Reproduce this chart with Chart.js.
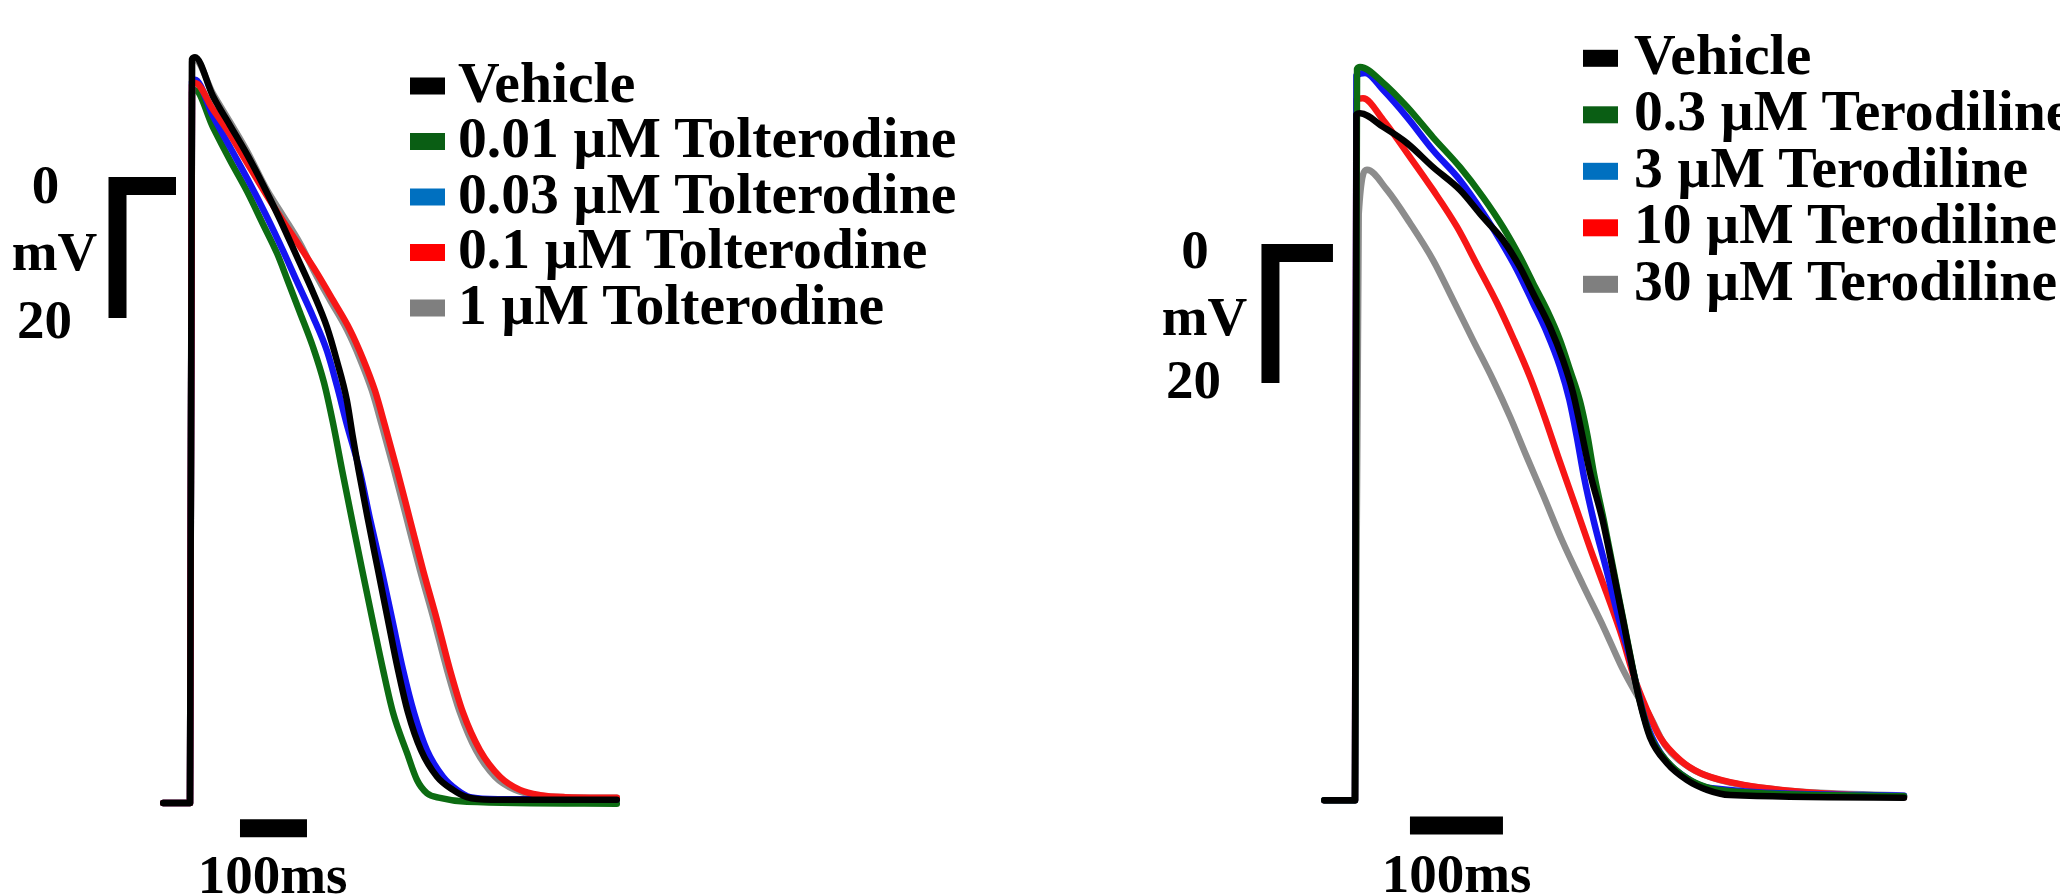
<!DOCTYPE html>
<html>
<head>
<meta charset="utf-8">
<script src="https://cdn.jsdelivr.net/npm/chart.js@4.4.1/dist/chart.umd.min.js"></script>
<style>
html,body{margin:0;padding:0;background:#fff;}
#page{position:relative;width:2060px;height:894px;overflow:hidden;background:#fff;}
.panel{position:absolute;top:0;width:1030px;height:894px;}
.panel canvas{display:block;}
#labels{position:absolute;left:0;top:0;}
</style>
</head>
<body>
<div id="page">
  <div class="panel" style="left:0px"><canvas id="tolChart" width="1030" height="894"></canvas></div>
  <div class="panel" style="left:1030px"><canvas id="terChart" width="1030" height="894"></canvas></div>
  <svg id="labels" width="2060" height="894" xmlns="http://www.w3.org/2000/svg"></svg>
</div>
<script>
// ---------------- DATA (time in ms from upstroke, membrane potential in mV) ----------------
const tolLabels = ['Vehicle', '0.01 \u00b5M Tolterodine', '0.03 \u00b5M Tolterodine', '0.1 \u00b5M Tolterodine', '1 \u00b5M Tolterodine'];
const terLabels = ['Vehicle', '0.3 \u00b5M Terodiline', '3 \u00b5M Terodiline', '10 \u00b5M Terodiline', '30 \u00b5M Terodiline'];

const tolVehicle = [[-40,-93.5],[0,-93.5],[3,19.2],[7.5,19.5],[34.3,13.6],[59.7,9.2],[85.1,4.8],[109,0.2],[134,-5.0],[160,-10.8],[184,-16.2],[204.5,-21.4],[219,-26.4],[234,-32.4],[243,-38.0],[251.5,-43.0],[265.7,-50.6],[280.6,-58.2],[295.5,-65.8],[310.4,-73.3],[325.4,-79.8],[344.8,-85.5],[368.7,-89.5],[392.5,-91.5],[413.4,-92.6],[450,-93.0],[637,-93.0]];
const tol001 = [[-40,-93.5],[0,-93.5],[3,14.2],[7.5,14.5],[34.3,8.9],[59.7,3.9],[85.1,-0.8],[109,-5.8],[129.9,-10.2],[146,-14.4],[164.2,-19.2],[183.6,-24.4],[200,-29.8],[213.4,-35.9],[226.9,-43.0],[241.8,-50.6],[257,-58.2],[272.5,-65.8],[288.1,-73.3],[303,-79.8],[323.9,-85.9],[338.8,-90.0],[353.7,-92.0],[373.1,-92.7],[413.4,-93.3],[637,-93.6]];
const tol003 = [[-40,-93.5],[0,-93.5],[3,15.8],[7.5,16.1],[34.3,10.6],[59.7,5.9],[85.1,1.2],[114.9,-4.7],[138.8,-9.8],[159.7,-14.5],[183.6,-19.8],[204.5,-25.0],[219.4,-30.3],[234.3,-36.2],[253,-43.0],[269,-50.6],[286,-58.2],[302,-65.8],[317.9,-73.3],[334.3,-79.8],[353.7,-85.5],[377.6,-89.5],[398.5,-91.5],[417.9,-92.6],[460,-92.9],[637,-92.9]];
const tol01 = [[-40,-93.5],[0,-93.5],[3,15.3],[7.5,15.6],[34.3,11.6],[59.7,7.8],[85.1,3.5],[114.9,-1.5],[138.8,-5.3],[164.2,-9.2],[189.6,-13.2],[213.4,-17.3],[238.8,-21.8],[258.2,-26.2],[276,-31.0],[291,-36.3],[309,-43.0],[328.4,-50.6],[347.8,-58.2],[368.7,-65.8],[388,-73.3],[407.5,-79.8],[432.8,-85.5],[462.7,-89.5],[492.5,-91.5],[522.4,-92.3],[560,-92.6],[637,-92.7]];
const tol1 = [[-40,-93.5],[0,-93.5],[3,18.8],[7.5,19.1],[34.3,14.0],[59.7,9.7],[85.1,5.3],[114.9,-0.6],[138.8,-4.5],[164.2,-8.7],[185.1,-12.9],[209,-17.3],[234.3,-21.8],[253.7,-26.2],[271.5,-31.0],[286.5,-36.3],[304.5,-43.0],[323.9,-50.6],[343.3,-58.2],[364.2,-65.8],[383.6,-73.3],[403,-79.8],[426.9,-85.5],[455.2,-89.5],[485,-91.5],[515,-92.3],[560,-92.6],[637,-92.7]];

const terVehicle = [[-33,-84.2],[0,-84.2],[1.5,21.3],[5.4,21.5],[30.1,19.4],[55.9,16.9],[83.9,13.2],[112.9,9.7],[137.6,5.5],[159.1,2.0],[177.4,-2.2],[191.4,-6.2],[209.7,-11.4],[223.7,-16.5],[234.4,-21.5],[242.5,-26.8],[252.7,-33.8],[266.2,-41.1],[277.4,-48.8],[288.2,-56.5],[298.9,-64.2],[306.5,-69.2],[317.2,-74.5],[335.5,-78.5],[357,-81.1],[378.5,-82.6],[403.2,-83.4],[590.3,-83.8]];
const ter03 = [[-33,-84.2],[0,-84.2],[2.2,28.3],[5.4,28.6],[30.1,26.2],[55.9,22.5],[83.9,17.8],[112.9,13.2],[137.6,8.6],[159.1,4.0],[177.4,-0.6],[191.4,-4.6],[206.5,-8.8],[220.4,-13.4],[231.2,-18.0],[241.9,-22.8],[249.8,-28.0],[257,-34.0],[267.5,-41.1],[278,-48.8],[288.6,-56.5],[299.2,-64.2],[306.8,-69.2],[317.5,-74.3],[335.5,-78.2],[357,-80.8],[378.5,-82.2],[403.2,-82.8],[590.3,-83.6]];
const ter3 = [[-33,-84.2],[0,-84.2],[1.5,27.3],[10.8,27.7],[30.1,25.1],[55.9,20.9],[83.9,15.8],[112.9,11.2],[137.6,6.2],[155.9,2.0],[174.2,-2.6],[191.4,-7.7],[206.5,-12.3],[220.4,-17.5],[230.5,-22.6],[238.5,-28.3],[246,-34.3],[256.5,-41.1],[270.5,-48.8],[284,-56.5],[295.2,-62.0],[303.5,-67.0],[312,-71.8],[328,-76.8],[357,-80.8],[381.7,-82.3],[590.3,-83.5]];
const ter10 = [[-33,-84.2],[0,-84.2],[1.5,23.6],[8.6,23.8],[30.1,20.5],[55.9,15.4],[83.9,9.7],[109.7,4.0],[131.2,-1.8],[152.7,-7.7],[169.9,-13.0],[188.2,-19.1],[204.3,-25.4],[219.5,-31.8],[236,-38.5],[253,-45.5],[271,-52.5],[287,-59.0],[300,-65.2],[314,-70.3],[328,-74.5],[349.5,-78.0],[371,-80.0],[403.2,-81.4],[478.5,-82.9],[590.3,-83.7]];
const ter30 = [[-33,-84.2],[0,-84.2],[4,6.0],[12.9,12.8],[34.4,9.7],[59.1,4.6],[83.9,-1.1],[105.4,-7.2],[126.9,-13.4],[148.4,-19.5],[166.7,-25.2],[183.9,-31.1],[202.2,-37.2],[222.6,-44.2],[245.2,-51.1],[267.7,-57.7],[287.1,-63.8],[301.1,-67.5],[317.2,-71.3],[333.3,-75.7],[360.2,-79.2],[392.5,-81.1],[457,-82.6],[590.3,-83.5]];

// Scale bars: sizes in data units, and their label texts
const scaleBarTimeMs = 100;
const scaleBarVoltMv = 20;
const voltBarLabels = ['0', 'mV', '20'];
const timeBarLabel = '100ms';

// ---------------- FONT: pick the first installed Times-like face ----------------
const serifCandidates = ['Liberation Serif', 'Tinos', 'Times New Roman', 'Times', 'FreeSerif', 'Noto Serif', 'DejaVu Serif'];
const mctx = document.createElement('canvas').getContext('2d');
function textWidth(f) { mctx.font = 'bold 40px ' + f; return mctx.measureText('Vehicle 0.03 \u00b5M Tolterodine mV 100ms').width; }
const serifPick = serifCandidates.find(c => Math.abs(textWidth('"' + c + '", monospace') - textWidth('monospace')) > 0.5);
const FONT = serifPick ? '"' + serifPick + '", serif' : 'serif';

// ---------------- STYLE / LAYOUT ----------------
const lineColors = ['#000000', '#0c6c12', '#1414f2', '#f71616', '#8c8c8c'];
const legendColors = ['#000000', '#0a5e14', '#0070c0', '#ff0000', '#7f7f7f'];

const panels = [
  {
    canvas: 'tolChart', labels: tolLabels, series: [tolVehicle, tol001, tol003, tol01, tol1],
    drawOrder: [0, 3, 2, 1, 4],
    x: {min: -283.58, max: 1253.7}, y: {min: -107.27, max: 28.18},
    vBarT: -108.2, hBarEndT: -20.9, timeBarStartT: 74.6, timeBarV: -97.3,
    legend: {rectX: 410, textX: 458, firstY: 86, step: 55.5},
    voltText: [[45.5, 203], [54.5, 270], [44.5, 338]],
    timeText: [272.5, 893]
  },
  {
    canvas: 'terChart', labels: terLabels, series: [terVehicle, ter03, ter3, ter10, ter30],
    drawOrder: [0, 1, 2, 3, 4],
    x: {min: -349.46, max: 758.07}, y: {min: -98.62, max: 38.92},
    vBarT: -90.9, hBarEndT: -23.7, timeBarStartT: 59.1, timeBarV: -88.1,
    legend: {rectX: 1583, textX: 1634, firstY: 58.3, step: 56.5},
    voltText: [[1195, 268], [1204.5, 335], [1193.5, 398]],
    timeText: [1456.5, 892]
  }
];

const toXY = arr => arr.map(p => ({x: p[0], y: p[1]}));

panels.forEach(p => {
  const datasets = [];
  datasets.push({
    label: 'voltage scale bar',
    data: [{x: p.hBarEndT, y: 0}, {x: p.vBarT, y: 0}, {x: p.vBarT, y: -scaleBarVoltMv}],
    borderColor: '#000', borderWidth: 18, borderJoinStyle: 'miter', borderCapStyle: 'butt',
    tension: 0, pointRadius: 0, showLine: true, fill: false
  });
  datasets.push({
    label: 'time scale bar',
    data: [{x: p.timeBarStartT, y: p.timeBarV}, {x: p.timeBarStartT + scaleBarTimeMs, y: p.timeBarV}],
    borderColor: '#000', borderWidth: 18, borderCapStyle: 'butt',
    tension: 0, pointRadius: 0, showLine: true, fill: false
  });
  p.drawOrder.forEach(i => {
    datasets.push({
      label: p.labels[i],
      data: toXY(p.series[i]),
      borderColor: lineColors[i], borderWidth: 6.5,
      cubicInterpolationMode: 'monotone',
      borderJoinStyle: 'round', borderCapStyle: 'round',
      pointRadius: 0, showLine: true, fill: false
    });
  });
  new Chart(document.getElementById(p.canvas), {
    type: 'scatter',
    data: {datasets},
    options: {
      responsive: false, animation: false, devicePixelRatio: 1, events: [],
      layout: {padding: 0},
      plugins: {legend: {display: false}, tooltip: {enabled: false}, title: {display: false}},
      scales: {
        x: {type: 'linear', display: false, min: p.x.min, max: p.x.max},
        y: {type: 'linear', display: false, min: p.y.min, max: p.y.max}
      }
    }
  });
});

// ---------------- TEXT (legend + scale bar labels) ----------------
const svg = document.getElementById('labels');
const NS = 'http://www.w3.org/2000/svg';
function addText(str, x, y, size, anchor, stretch) {
  const t = document.createElementNS(NS, 'text');
  t.setAttribute('x', 0); t.setAttribute('y', 0);
  t.setAttribute('transform', 'translate(' + x + ',' + y + ') scale(' + (stretch || 1) + ',1)');
  t.setAttribute('font-size', size);
  t.setAttribute('font-weight', 'bold');
  t.setAttribute('fill', '#000');
  t.setAttribute('text-anchor', anchor);
  t.style.fontFamily = FONT;
  t.textContent = str;
  svg.appendChild(t);
}
panels.forEach(p => {
  p.labels.forEach((lab, i) => {
    const cy = p.legend.firstY + i * p.legend.step;
    const r = document.createElementNS(NS, 'rect');
    r.setAttribute('x', p.legend.rectX); r.setAttribute('y', cy - 8.5);
    r.setAttribute('width', 35); r.setAttribute('height', 17);
    r.setAttribute('fill', legendColors[i]);
    svg.appendChild(r);
    addText(lab, p.legend.textX, cy + 15.5, 56, 'start', 1.03);
  });
  voltBarLabels.forEach((s, i) => addText(s, p.voltText[i][0], p.voltText[i][1], 55, 'middle'));
  addText(timeBarLabel, p.timeText[0], p.timeText[1], 55, 'middle');
});
</script>
</body>
</html>
